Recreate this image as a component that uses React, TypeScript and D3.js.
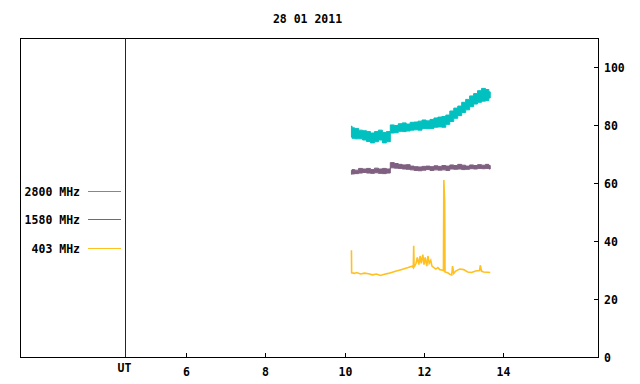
import React, { useEffect, useRef } from "react";
import * as d3 from "d3";

// time axis (UT hours) shared by the two banded series
const bandTimes = [10.17, 10.2, 10.3, 10.4, 10.5, 10.6, 10.7, 10.8, 10.9, 11.0, 11.1, 11.2, 11.3, 11.4, 11.5, 11.6, 11.7, 11.8, 11.9, 12.0, 12.1, 12.2, 12.3, 12.4, 12.5, 12.6, 12.7, 12.8, 12.9, 13.0, 13.1, 13.2, 13.3, 13.4, 13.5, 13.6, 13.67];

// 2800 MHz: noise envelope (high / low)
const cyanHi = [79.8, 79.2, 79, 78.4, 78.2, 77.9, 77.4, 77.9, 78.4, 77.6, 77.9, 80.2, 80, 80.6, 80.9, 80.5, 81.1, 81.2, 81.5, 81.9, 81.6, 82.1, 82.6, 82.9, 83.1, 83.6, 85, 86, 86.7, 88, 89, 90.2, 91, 92, 92.8, 92.4, 91.6];
const cyanLo = [76, 75.6, 75.4, 75.4, 75, 74.5, 74, 74.4, 75, 74, 74.4, 77.4, 77.5, 78, 77.9, 78.1, 78.4, 78.5, 78.4, 79, 78.9, 79, 79.4, 79.5, 79.4, 80.4, 81.4, 82.5, 83.4, 84.5, 85.4, 86.5, 87.4, 88, 88.4, 88.6, 89.5];

// 1580 MHz
const purpleHi = [64.5, 64.8, 64.6, 65.2, 65.0, 65.2, 64.8, 65.3, 65.0, 65.2, 65.0, 67.2, 66.9, 66.6, 66.4, 66.5, 66.0, 65.8, 65.7, 65.9, 66.0, 65.8, 66.1, 65.9, 66.2, 66.0, 66.4, 66.2, 66.6, 66.3, 66.0, 66.4, 66.2, 66.5, 66.3, 66.6, 66.2];
const purpleLo = [63.2, 63.3, 63.4, 63.6, 63.8, 63.6, 63.5, 63.7, 63.5, 63.4, 63.6, 65.4, 65.3, 65.2, 65.0, 64.9, 64.7, 64.5, 64.4, 64.6, 64.8, 64.5, 64.7, 64.6, 64.7, 64.5, 65.0, 64.9, 65.0, 64.8, 64.9, 65.1, 65.0, 65.2, 65.1, 65.2, 65.0];

// 403 MHz
const yellowTimes = [10.17, 10.175, 10.25, 10.3, 10.4, 10.5, 10.6, 10.7, 10.8, 10.9, 11.0, 11.1, 11.2, 11.3, 11.4, 11.5, 11.6, 11.7, 11.73, 11.74, 11.75, 11.8, 11.83, 11.87, 11.9, 11.93, 11.97, 12.0, 12.03, 12.07, 12.1, 12.13, 12.17, 12.2, 12.25, 12.3, 12.35, 12.4, 12.45, 12.49, 12.5, 12.52, 12.53, 12.6, 12.65, 12.7, 12.72, 12.75, 12.8, 12.9, 13.0, 13.1, 13.2, 13.3, 13.4, 13.42, 13.45, 13.5, 13.6, 13.67];
const yellowVals = [37, 29.2, 29.0, 29.3, 28.8, 29.1, 28.9, 28.5, 28.8, 28.3, 28.7, 29.0, 29.4, 29.8, 30.2, 30.6, 31.0, 31.5, 31.0, 38.5, 31.2, 32.5, 34.5, 32.0, 35.0, 32.5, 35.5, 32.0, 34.5, 31.5, 35.0, 32.5, 33.5, 31.5, 31.0, 30.5, 31.0, 30.3, 30.2, 30.0, 61.2, 53.8, 29.5, 29.2, 28.7, 28.5, 31.5, 29.0, 29.8, 30.5, 30.3, 29.5, 29.3, 29.8, 30.0, 31.8, 29.8, 29.5, 29.4, 29.3];

const xTicks = [6, 8, 10, 12, 14];
const yTicks = [0, 20, 40, 60, 80, 100];
const legendNames = ["2800 MHz", "1580 MHz", "403 MHz"];
const colors = ["#00c0c0", "#7f6080", "#ffc020"];
const utHour = 4.47;
const title = "28 01 2011";

export default function App() {
  const ref = useRef<SVGSVGElement>(null);

  useEffect(() => {
    const svg = d3.select(ref.current);
    svg.selectAll("*").remove();
    const font = "'DejaVu Sans Mono', monospace";

    const x = d3.scaleLinear().domain([1.825, 16.4]).range([20.5, 598.5]);
    const y = d3.scaleLinear().domain([0, 110]).range([357.5, 38.5]);

    const txt = (tx: number, ty: number, s: string, anchor = "middle") =>
      svg.append("text").attr("x", tx).attr("y", ty).attr("text-anchor", anchor)
        .attr("font-family", font).attr("font-weight", "bold").attr("font-size", 11.5)
        .attr("fill", "#000").text(s);

    txt(307.5, 23, title);

    // frame
    svg.append("rect").attr("x", 20.5).attr("y", 38.5).attr("width", 578).attr("height", 319)
      .attr("fill", "none").attr("stroke", "#000").attr("stroke-width", 1);

    // UT marker
    svg.append("line").attr("x1", Math.round(x(utHour)) + 0.5).attr("x2", Math.round(x(utHour)) + 0.5)
      .attr("y1", 38.5).attr("y2", 357).attr("stroke", "#800000");
    txt(x(utHour) - 1, 372, "UT");

    // bottom ticks
    xTicks.forEach(t => {
      const px = Math.round(x(t)) + 0.5;
      svg.append("line").attr("x1", px).attr("x2", px).attr("y1", 357.5).attr("y2", 353).attr("stroke", "#000");
      txt(px, 376, String(t));
    });

    // right ticks
    yTicks.forEach(v => {
      const py = Math.round(y(v) - 0.5) + 0.5;
      if (v > 0) svg.append("line").attr("x1", 598.5).attr("x2", 594).attr("y1", py).attr("y2", py).attr("stroke", "#000");
      txt(604, py + 4, String(v), "start");
    });

    const band = (hi: number[], lo: number[]) =>
      d3.area<number>().curve(d3.curveStep)
        .x((_, i) => x(bandTimes[i])).y0((_, i) => y(lo[i])).y1(d => y(d))(hi);

    svg.append("path").attr("d", band(cyanHi, cyanLo)).attr("fill", colors[0])
      .attr("stroke", colors[0]).attr("stroke-width", 1);
    svg.append("path").attr("d", band(purpleHi, purpleLo)).attr("fill", colors[1])
      .attr("stroke", colors[1]).attr("stroke-width", 1);

    const yl = d3.line<number>().x((_, i) => x(yellowTimes[i])).y(d => y(d));
    svg.append("path").attr("d", yl(yellowVals)).attr("fill", "none")
      .attr("stroke", colors[2]).attr("stroke-width", 1.6);

    // legend
    const legY = [191.5, 219.5, 248.5];
    legendNames.forEach((n, i) => {
      txt(80, legY[i] + 4.5, n, "end");
      svg.append("line").attr("x1", 88).attr("x2", 121).attr("y1", legY[i]).attr("y2", legY[i])
        .attr("stroke", colors[i]).attr("stroke-width", 1);
    });
  }, []);

  return (
    <svg ref={ref} width={640} height={384}
      style={{ position: "absolute", left: 0, top: 0, background: "#fff" }} />
  );
}
